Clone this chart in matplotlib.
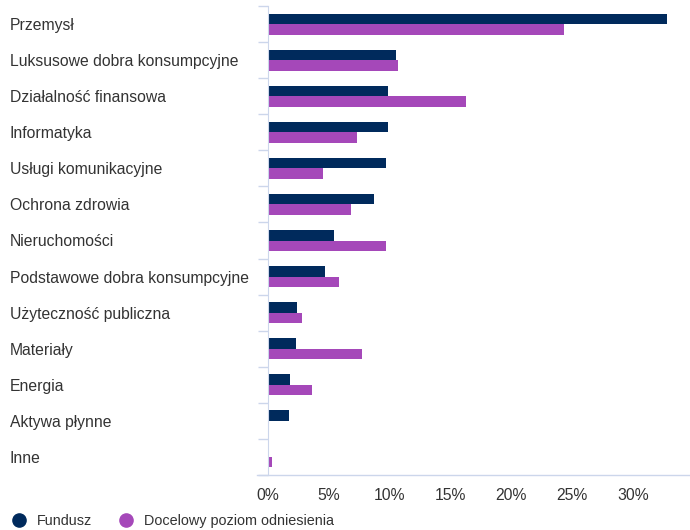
import numpy as np
import matplotlib.pyplot as plt
import matplotlib
from matplotlib.lines import Line2D

matplotlib.rc('font', family=['Liberation Sans', 'DejaVu Sans'], size=11.3)

categories = ['Przemysł', 'Luksusowe dobra konsumpcyjne', 'Działalność finansowa',
              'Informatyka', 'Usługi komunikacyjne', 'Ochrona zdrowia',
              'Nieruchomości', 'Podstawowe dobra konsumpcyjne',
              'Użyteczność publiczna', 'Materiały', 'Energia',
              'Aktywa płynne', 'Inne']
fundusz = [32.8, 10.5, 9.9, 9.9, 9.7, 8.7, 5.4, 4.7, 2.4, 2.3, 1.8, 1.7, 0.0]
docelowy = [24.3, 10.7, 16.3, 7.3, 4.5, 6.8, 9.7, 5.8, 2.8, 7.7, 3.6, 0.0, 0.3]
xticks = [0, 5, 10, 15, 20, 25, 30]
xticklabels = ['0%', '5%', '10%', '15%', '20%', '25%', '30%']

navy = '#002a5c'
purple = '#a548b9'
axis_col = '#ccd6eb'
text_col = '#333333'

fig = plt.figure(figsize=(6.9, 5.3), dpi=100)
ax = fig.add_axes([268 / 690, 1 - 475 / 530, 422 / 690, 469 / 530])

y = np.arange(len(categories))
h = 0.29
ax.barh(y - h / 2, fundusz, height=h, color=navy, label='Fundusz')
ax.barh(y + h / 2, docelowy, height=h, color=purple, label='Docelowy poziom odniesienia')

ax.set_ylim(len(categories) - 0.5, -0.5)
ax.set_xlim(0, 34.7)

ax.set_yticks(y)
ax.set_yticklabels(categories, ha='left', color=text_col)
ax.set_yticks(np.arange(len(categories) + 1) - 0.5, minor=True)
ax.tick_params(axis='y', which='major', length=0, pad=185.8)
ax.tick_params(axis='y', which='minor', length=7.2, width=1, color=axis_col)

ax.set_xticks(xticks)
ax.set_xticklabels(xticklabels, color=text_col)
ax.tick_params(axis='x', length=0, pad=9.5)

for s in ['top', 'right', 'bottom']:
    ax.spines[s].set_visible(False)
ax.spines['left'].set_color(axis_col)
ax.plot([-11 / 422, 1], [0, 0], transform=ax.transAxes, color=axis_col,
        lw=1, clip_on=False)

handles = [Line2D([], [], marker='o', ls='', color=navy, markersize=9.5),
           Line2D([], [], marker='o', ls='', color=purple, markersize=9.5)]
fig.legend(handles, ['Fundusz', 'Docelowy poziom odniesienia'], loc='lower left',
           bbox_to_anchor=(-0.0015, -0.02), ncol=2, frameon=False, fontsize=10.4,
           handletextpad=0.7, columnspacing=1.9, handlelength=1.0,
           labelcolor=text_col)

plt.savefig('out.png', dpi=100)
